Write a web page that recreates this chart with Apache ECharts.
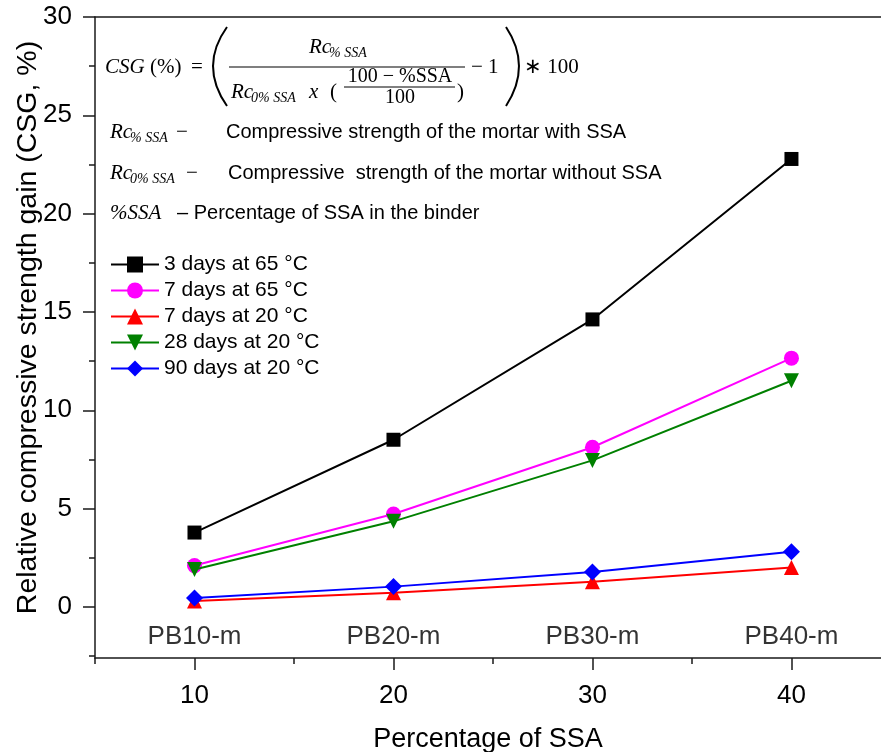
<!DOCTYPE html>
<html>
<head>
<meta charset="utf-8">
<script src="https://cdn.jsdelivr.net/npm/echarts@6/dist/echarts.min.js"></script>
<style>html,body{margin:0;padding:0;background:#fff}#c{width:881px;height:752px}</style>
</head>
<body>
<div id="c"></div>
<script>
// ---- data ----
const xValues = [10, 20, 30, 40];
const sampleLabels = ['PB10-m', 'PB20-m', 'PB30-m', 'PB40-m'];
const seriesNames = ['3 days at 65 °C', '7 days at 65 °C', '7 days at 20 °C', '28 days at 20 °C', '90 days at 20 °C'];
const d3at65 = [3.78, 8.5, 14.62, 22.78];
const d7at65 = [2.1, 4.72, 8.12, 12.65];
const d7at20 = [0.3, 0.72, 1.28, 2.0];
const d28at20 = [1.9, 4.35, 7.45, 11.5];
const d90at20 = [0.45, 1.03, 1.77, 2.8];
const yMajorTicks = [0, 5, 10, 15, 20, 25, 30];
const yMinorTicks = [-2.5, 2.5, 7.5, 12.5, 17.5, 22.5, 27.5];
const xMajorTicks = [10, 20, 30, 40];
const xMinorTicks = [5, 15, 25, 35];

const SANS = '"Liberation Sans", Arial, sans-serif';
const SERIF = '"Liberation Serif", "Times New Roman", serif';

function pairs(vals) { return xValues.map((x, i) => [x, vals[i]]); }

const seriesData = [d3at65, d7at65, d7at20, d28at20, d90at20];
const colors = ['#000000', '#FF00FF', '#FF0000', '#008000', '#0000FF'];
const symbols = ['rect', 'circle', 'triangle', 'path://M0,0 L10,0 L5,9 Z', 'diamond'];
const symbolSizes = [14, 15, 15, 15, 17];

const X_MIN = 5, X_MAX = 44.5, Y_MIN = -2.6, Y_MAX = 30;
const axisLineStyle = { color: '#1a1a1a', width: 1.5 };

const lineSeries = seriesData.map((vals, i) => ({
  name: seriesNames[i],
  type: 'line',
  xAxisIndex: 0, yAxisIndex: 0,
  data: pairs(vals),
  symbol: symbols[i],
  symbolSize: symbolSizes[i],
  lineStyle: { color: colors[i], width: 2 },
  itemStyle: { color: colors[i] },
  z: 3 + i
}));

const labelSeries = {
  name: 'samples',
  type: 'scatter',
  xAxisIndex: 0, yAxisIndex: 0,
  data: xValues.map((x, i) => ({ value: [x, -1.5], name: sampleLabels[i] })),
  symbolSize: 1,
  itemStyle: { color: 'rgba(0,0,0,0)' },
  silent: true,
  label: { show: true, position: 'inside', formatter: p => p.name, fontSize: 26, fontFamily: SANS, color: '#000' }
};

function T(x, y, text, font, align) {
  return { type: 'text', x: x, y: y, silent: true,
    style: { text: text, font: font, fill: '#000', align: align || 'left', verticalAlign: 'middle',
             textAlign: align || 'left', textVerticalAlign: 'middle' } };
}
const fi = 'italic 21px ' + SERIF, fn = '21px ' + SERIF, fs = 'italic 14px ' + SERIF, fsans = '20px ' + SANS;

const graphics = [
  // formula
  T(105, 67, 'CSG', fi),
  T(150, 67, '(%)', fn),
  T(191, 67, '=', fn),
  { type: 'bezierCurve', silent: true, shape: { x1: 227, y1: 27, x2: 227, y2: 106, cpx1: 199, cpy1: 66 }, style: { stroke: '#000', lineWidth: 2, fill: null } },
  T(309, 47, 'Rc', fi), T(329, 53, '% SSA', fs),
  { type: 'line', silent: true, shape: { x1: 229, y1: 67, x2: 465, y2: 67 }, style: { stroke: '#000', lineWidth: 1.2 } },
  T(231, 92, 'Rc', fi), T(251, 98, '0% SSA', fs),
  T(309, 92, 'x', fi), T(330, 92, '(', fn),
  T(400, 77, '100 − %SSA', '20px ' + SERIF, 'center'),
  { type: 'line', silent: true, shape: { x1: 344, y1: 87, x2: 455, y2: 87 }, style: { stroke: '#000', lineWidth: 1 } },
  T(400, 98, '100', '20px ' + SERIF, 'center'),
  T(457, 92, ')', fn),
  T(471, 67, '− 1', fn),
  { type: 'bezierCurve', silent: true, shape: { x1: 506, y1: 27, x2: 506, y2: 106, cpx1: 532, cpy1: 66 }, style: { stroke: '#000', lineWidth: 2, fill: null } },
  T(524, 67, '∗ 100', fn),
  // definitions
  T(110, 132, 'Rc', fi), T(130, 138, '% SSA', fs), T(176, 132, '−', fn),
  T(226, 132, 'Compressive strength of the mortar with SSA', fsans),
  T(110, 173, 'Rc', fi), T(130, 179, '0% SSA', fs), T(186, 173, '−', fn),
  T(228, 173, 'Compressive  strength of the mortar without SSA', fsans),
  T(110, 213, '%SSA', fi), T(177, 213, '– Percentage of SSA in the binder', fsans)
];

const option = {
  animation: false,
  backgroundColor: '#fff',
  grid: { left: 95, top: 17, right: 0, bottom: 94, containLabel: false, outerBoundsMode: 'none' },
  legend: {
    orient: 'vertical', left: 105, top: 249,
    itemWidth: 48, itemHeight: 20, itemGap: 5,
    data: seriesNames,
    textStyle: { fontSize: 21, fontFamily: SANS, color: '#000', lineHeight: 21 }
  },
  xAxis: [
    { type: 'value', min: X_MIN, max: X_MAX, position: 'bottom',
      name: 'Percentage of SSA', nameLocation: 'middle', nameGap: 68,
      nameTextStyle: { fontSize: 27, fontFamily: SANS, color: '#000' },
      axisLine: { show: true, onZero: false, lineStyle: axisLineStyle },
      axisTick: { show: true, length: 12, customValues: xMajorTicks, lineStyle: axisLineStyle },
      axisLabel: { show: true, customValues: xMajorTicks, fontSize: 26, fontFamily: SANS, color: '#000', margin: 25 },
      splitLine: { show: false } },
    { type: 'value', min: X_MIN, max: X_MAX, position: 'bottom',
      axisLine: { show: false, onZero: false },
      axisTick: { show: true, length: 6, customValues: xMinorTicks, lineStyle: axisLineStyle },
      axisLabel: { show: false }, splitLine: { show: false } },
    { type: 'value', min: X_MIN, max: X_MAX, position: 'top',
      axisLine: { show: true, onZero: false, lineStyle: axisLineStyle },
      axisTick: { show: false }, axisLabel: { show: false }, splitLine: { show: false } }
  ],
  yAxis: [
    { type: 'value', min: Y_MIN, max: Y_MAX, position: 'left',
      name: 'Relative compressive strength gain (CSG, %)', nameLocation: 'middle', nameGap: 52,
      nameMoveOverlap: false,
      nameTextStyle: { fontSize: 28.5, fontFamily: SANS, color: '#000', padding: [0, 0, 0, 20] },
      axisLine: { show: true, onZero: false, lineStyle: axisLineStyle },
      axisTick: { show: true, length: 12, customValues: yMajorTicks, lineStyle: axisLineStyle },
      axisLabel: { show: true, customValues: yMajorTicks, fontSize: 26, fontFamily: SANS, color: '#000', margin: 23 },
      splitLine: { show: false } },
    { type: 'value', min: Y_MIN, max: Y_MAX, position: 'left',
      axisLine: { show: false, onZero: false },
      axisTick: { show: true, length: 6, customValues: yMinorTicks, lineStyle: axisLineStyle },
      axisLabel: { show: false }, splitLine: { show: false } }
  ],
  series: lineSeries.concat([labelSeries]),
  graphic: { elements: graphics }
};

const chart = echarts.init(document.getElementById('c'), null, { renderer: 'canvas' });
chart.setOption(option);
</script>
</body>
</html>
